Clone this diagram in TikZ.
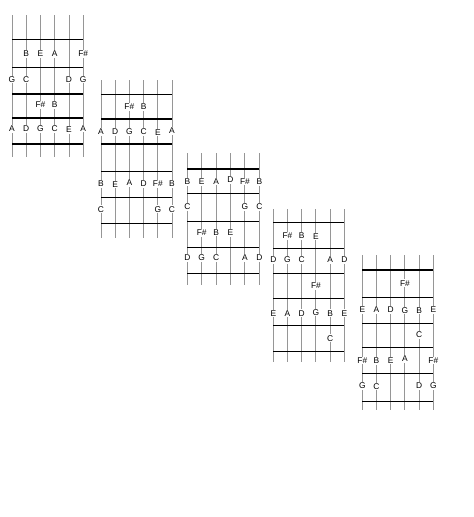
\documentclass[tikz,border=0pt]{standalone}
\usepackage{fontspec}
\setmainfont{Liberation Sans}
\usetikzlibrary{positioning}
\definecolor{stringgray}{RGB}{150, 150, 150}
\tikzstyle{guitarstring} = [
    draw=stringgray,
    line width=0.9pt
]
\tikzstyle{fretline} = [
    draw=black,
    line width=1.3pt
]
\tikzstyle{notelabel} = [
    fill=white,
    inner sep=1pt,
    font=\fontsize{8.4}{10}\selectfont
]
\begin{document}
\begin{tikzpicture}[x=1pt, y=-1pt]
        \useasboundingbox (0,0) rectangle (474,517);
        % Board 1
        \begin{scope}[shift={(12,0)}]
            \foreach \s in {0,...,5} \draw[guitarstring] (\s*14.25,15) -- (\s*14.25,157);
            \foreach \f in {39.3,67.7,94,118,144} \draw[fretline] (0,\f) -- (71.25,\f);
            \foreach \s/\y/\t [count=\i] in {2/54/B, 3/54/E, 4/54/A, 6/54/{F\#},
                1/79.5/G, 2/79.5/C, 5/79.5/D, 6/79.5/G,
                3/105/{F\#}, 4/105/B,
                1/129/A, 2/129/D, 3/129/G, 4/129/C, 5/130/E, 6/128.5/A}
                \node[notelabel] (ba\i) at ({(\s-1)*14.25},\y) {\t};
        \end{scope}
        % Board 2
        \begin{scope}[shift={(101,0)}]
            \foreach \s in {0,...,5} \draw[guitarstring] (\s*14.2,80) -- (\s*14.2,238);
            \foreach \f in {94.3,119,144,171.7,197.7,223.3} \draw[fretline] (0,\f) -- (71,\f);
            \foreach \s/\y/\t [count=\i] in {3/107/{F\#}, 4/107/B,
                1/132/A, 2/132/D, 3/132/G, 4/132/C, 5/132.5/E, 6/131/A,
                1/184/B, 2/184.5/E, 3/182.7/A, 4/184/D, 5/184/{F\#}, 6/184/B,
                1/209.3/C, 5/209.3/G, 6/209.3/C}
                \node[notelabel] (bb\i) at ({(\s-1)*14.2},\y) {\t};
        \end{scope}
        % Board 3
        \begin{scope}[shift={(187.3,0)}]
            \foreach \s in {0,...,5} \draw[guitarstring] (\s*14.4,153) -- (\s*14.4,285);
            \foreach \f in {169,193.7,221.7,247.7,273.7} \draw[fretline] (0,\f) -- (72,\f);
            \foreach \s/\y/\t [count=\i] in {1/182/B, 2/182/E, 3/181.5/A, 4/180/D, 5/181.5/{F\#}, 6/182/B,
                1/206.7/C, 5/206.7/G, 6/206.7/C,
                2/233/{F\#}, 3/232.5/B, 4/233/E,
                1/258/D, 2/258/G, 3/258/C, 5/258/A, 6/258/D}
                \node[notelabel] (bc\i) at ({(\s-1)*14.4},\y) {\t};
        \end{scope}
        % Board 4
        \begin{scope}[shift={(273.3,0)}]
            \foreach \s in {0,...,5} \draw[guitarstring] (\s*14.2,209) -- (\s*14.2,362);
            \foreach \f in {222.3,248.3,273.3,298.3,325.7,351.7} \draw[fretline] (0,\f) -- (71,\f);
            \foreach \s/\y/\t [count=\i] in {2/235.7/{F\#}, 3/235.7/B, 4/236.5/E,
                1/260/D, 2/260/G, 3/260/C, 5/260/A, 6/260/D,
                4/285.7/{F\#},
                1/313.5/E, 2/313.5/A, 3/313.3/D, 4/312.5/G, 5/313.3/B, 6/313.3/E,
                5/338.3/C}
                \node[notelabel] (bd\i) at ({(\s-1)*14.2},\y) {\t};
        \end{scope}
        % Board 5
        \begin{scope}[shift={(362.3,0)}]
            \foreach \s in {0,...,5} \draw[guitarstring] (\s*14.2,255) -- (\s*14.2,410);
            \foreach \f in {270,297.7,323.3,347.7,373.3,401.5} \draw[fretline] (0,\f) -- (71,\f);
            \foreach \s/\y/\t [count=\i] in {4/283.3/{F\#},
                1/310/E, 2/310/A, 3/310/D, 4/310.5/G, 5/310.5/B, 6/310/E,
                5/335/C,
                1/360.5/{F\#}, 2/361/B, 3/360.5/E, 4/359/A, 6/360.5/{F\#},
                1/386/G, 2/386.5/C, 5/386/D, 6/386/G}
                \node[notelabel] (be\i) at ({(\s-1)*14.2},\y) {\t};
        \end{scope}
    \end{tikzpicture}
\end{document}
